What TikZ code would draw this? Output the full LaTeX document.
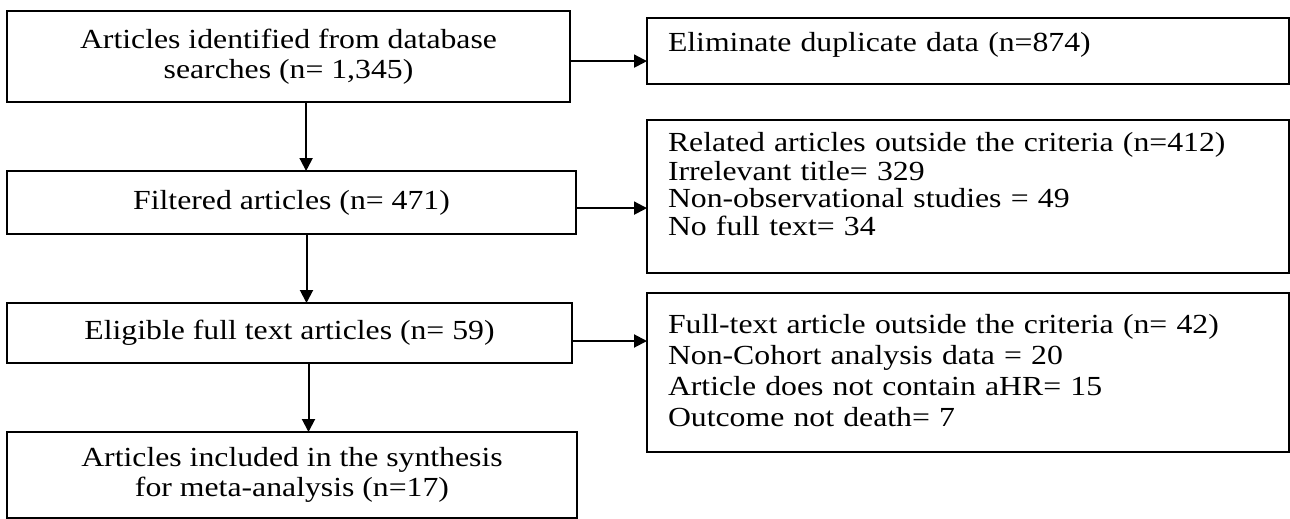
\documentclass[tikz,border=0pt]{standalone}
\usepackage{fontspec}
\setmainfont{Liberation Serif}[FakeStretch=1.15]
\usepackage{tikz}
\usetikzlibrary{arrows.meta,positioning}
\tikzset{
  box/.style={draw=black,line width=1.3pt,fill=white,outer sep=0pt,font=\fontsize{13.8pt}{15pt}\selectfont},
  flow/.style={box,align=center,inner sep=2pt},
  side/.style={box,align=left,text width=300pt,inner xsep=10.5pt,inner ysep=5pt},
  arr/.style={-{Triangle[length=6.5pt,width=6.5pt]},line width=1pt,draw=black},
}
\begin{document}
\begin{tikzpicture}[node distance=34.5pt]
 \useasboundingbox (0,0) rectangle (645pt,-259.5pt);
 \node[flow,minimum width=281.5pt,minimum height=45.5pt,anchor=north west] (s1) at (3.5pt,-5.5pt) {Articles identified from database\\searches (n= 1,345)};
 \node[flow,minimum width=284.5pt,minimum height=31.5pt,below=of s1.south west,anchor=north west] (s2) {Filtered articles (n= 471)};
 \node[flow,minimum width=282.5pt,minimum height=30pt,below=of s2.south west,anchor=north west] (s3) {Eligible full text articles (n= 59)};
 \node[flow,minimum width=285pt,minimum height=43pt,below=of s3.south west,anchor=north west] (s4) {Articles included in the synthesis\\for meta-analysis (n=17)};
 \node[side,text height=12pt,text depth=11pt,anchor=north west] (x1) at (323.5pt,-9pt) {Eliminate duplicate data (n=874)};
 \node[side,font=\fontsize{13.8pt}{14pt}\selectfont,text height=11pt,text depth=55.5pt,below=18pt of x1.south west,anchor=north west] (x2) {Related articles outside the criteria (n=412)\\Irrelevant title= 329\\Non-observational studies = 49\\No full text= 34};
 \node[side,font=\fontsize{13.8pt}{15.5pt}\selectfont,text height=15pt,text depth=54.5pt,below=10pt of x2.south west,anchor=north west] (x3) {Full-text article outside the criteria (n= 42)\\Non-Cohort analysis data = 20\\Article does not contain aHR= 15\\Outcome not death= 7};
 \draw[arr] ([xshift=8.8pt]s1.south) -- ([xshift=8.8pt]s1.south |- s2.north);
 \draw[arr] ([xshift=7.5pt]s2.south) -- ([xshift=7.5pt]s2.south |- s3.north);
 \draw[arr] ([xshift=9.5pt]s3.south) -- ([xshift=9.5pt]s3.south |- s4.north);
 \draw[arr] ([yshift=-2.3pt]s1.east) -- ([yshift=-2.3pt]s1.east -| x1.west);
 \draw[arr] ([yshift=-2.8pt]s2.east) -- ([yshift=-2.8pt]s2.east -| x2.west);
 \draw[arr] ([yshift=-4pt]s3.east) -- ([yshift=-4pt]s3.east -| x3.west);
\end{tikzpicture}
\end{document}
